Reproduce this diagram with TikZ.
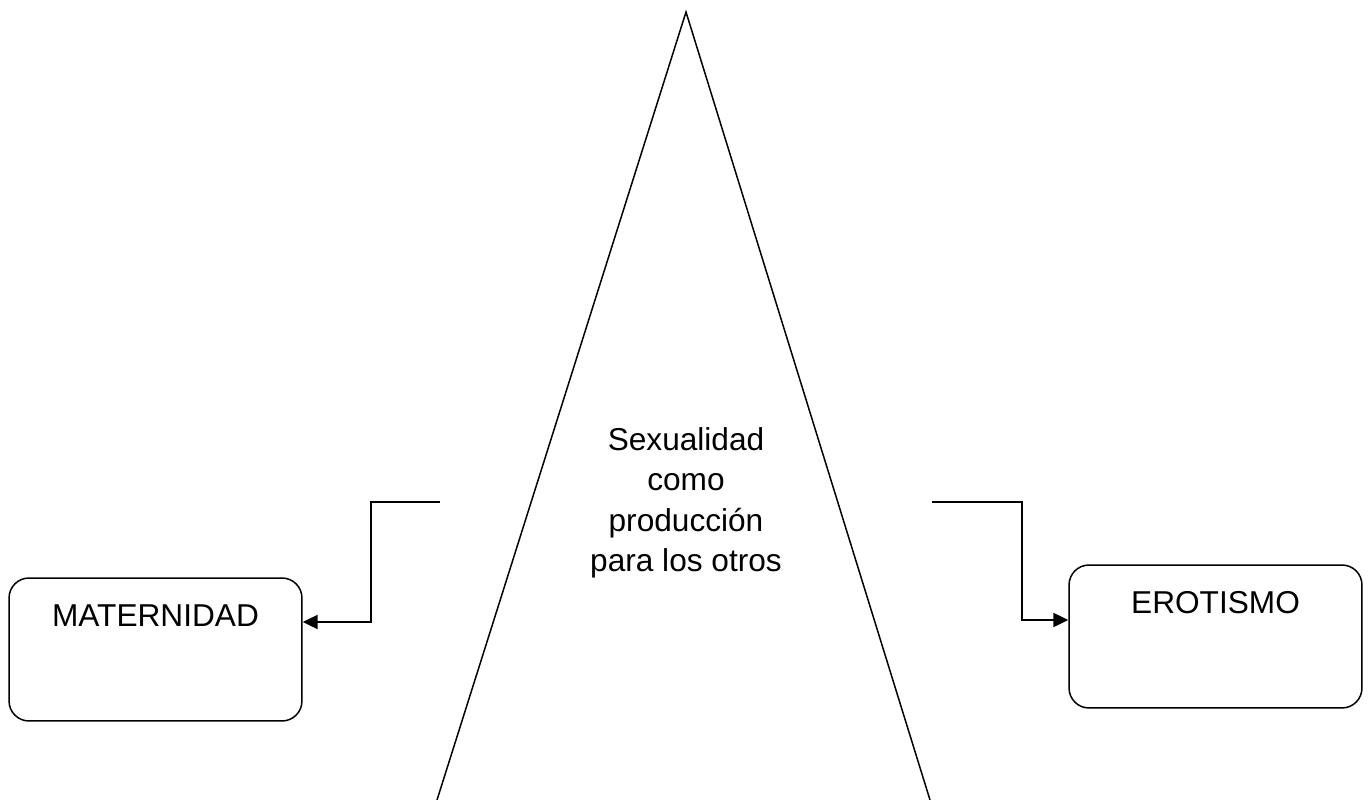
\documentclass[tikz,border=0pt]{standalone}
\usepackage{fontspec}
\setmainfont{Liberation Sans}
\usetikzlibrary{positioning}
\usetikzlibrary{calc}
\usetikzlibrary{arrows.meta}
\tikzset{
    % Filled triangle tips, as in the drawing
    >={Triangle[length=3mm, width=2.8mm]},
%
    % Lines
    link/.style={line width=1.3pt, ->},
    edge line/.style={line width=0.85pt},
%
    every node/.style={align=center},
}

\begin{document}
\begin{tikzpicture}[
    x=0.02cm, y=-0.02cm,
    big text/.style={font=\fontsize{18}{23}\selectfont},
    box/.style={draw, line width=0.85pt, rounded corners=4mm,
        minimum width=5.86cm, minimum height=2.86cm},
    box label/.style={big text, anchor=north, yshift=-4.2mm},
    ]

% Extent of the diagram
\useasboundingbox (0,0) rectangle (1372,800);

% The triangle, open at the bottom
\coordinate (apex) at (686,12);
\coordinate (base left) at (437,800);
\coordinate (base right) at (930,800);
\draw [edge line] (base left) -- (apex) -- (base right);

\node [big text] (sexualidad) at (686,503)
    {Sexualidad\\como\\producción\\para los otros};

% The two outcomes
\node [box, label={[box label]north:MATERNIDAD}] (maternidad) at (155.5,649.5) {};
\node [box, label={[box label]north:EROTISMO}] (erotismo) at (1215.5,636.5) {};

% Left branch
\coordinate (left start) at (440,502);
\coordinate (left turn) at (371,622);
\draw [link] (left start) -| (left turn) -- (left turn -| maternidad.east);

% Right branch
\coordinate (right start) at (932,502);
\coordinate (right turn) at (1022,620);
\draw [link] (right start) -| (right turn) -- (right turn -| erotismo.west);

\end{tikzpicture}
\end{document}
